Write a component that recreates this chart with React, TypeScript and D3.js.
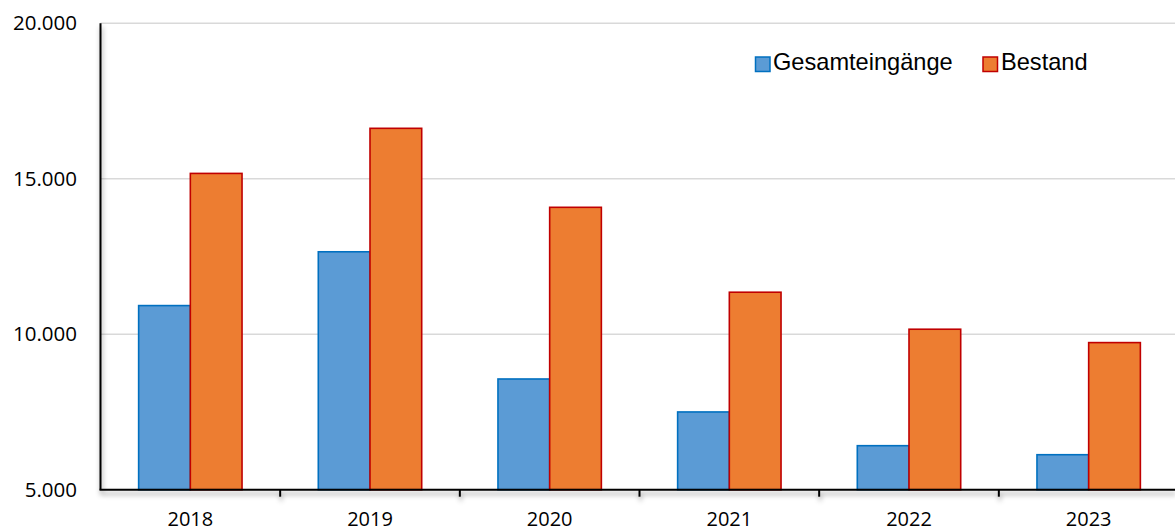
import React from "react";
import * as d3 from "d3";

const years = ["2018", "2019", "2020", "2021", "2022", "2023"];
const gesamteingaenge = [10920, 12650, 8560, 7500, 6415, 6125];
const bestand = [15170, 16620, 14080, 11350, 10160, 9730];
const yTicks = [5000, 10000, 15000, 20000];
const seriesNames = ["Gesamteingänge", "Bestand"];

const W = 1175;
const H = 531;
const left = 100.5;
const right = 1178.5;
const top = 23.2;
const bottom = 489.7;

const fmt = (v: number) => d3.format(",")(v).replace(/,/g, ".");

export default function App() {
  const x = d3.scaleBand<string>().domain(years).range([left, right]).paddingInner(0).paddingOuter(0);
  const y = d3.scaleLinear().domain([5000, 20000]).range([bottom, top]);
  const bw = x.bandwidth();
  const barW = 51.7;
  const series = [
    { name: seriesNames[0], values: gesamteingaenge, fill: "#5B9BD5", stroke: "#0070C0" },
    { name: seriesNames[1], values: bestand, fill: "#ED7D31", stroke: "#C00000" },
  ];
  const boundaries = years.slice(1).map((yr) => x(yr)!);

  return (
    <svg
      width={W}
      height={H}
      style={{ position: "absolute", left: 0, top: 0, background: "#fff" }}
    >
      <defs>
        <filter id="sh" x="-5%" y="-50%" width="110%" height="300%">
          <feDropShadow dx="1" dy="4" stdDeviation="2.5" floodColor="#000" floodOpacity="0.4" />
        </filter>
      </defs>
      <rect x={0} y={0} width={W} height={H} fill="#fff" />
      {yTicks.slice(1).map((t) => (
        <line key={t} x1={left} x2={W} y1={y(t)} y2={y(t)} stroke="#D9D9D9" strokeWidth={1.5} />
      ))}
      {series.map((s, si) =>
        s.values.map((v, i) => {
          const cx = x(years[i])! + bw / 2;
          const x0 = si === 0 ? cx - barW : cx;
          return (
            <rect
              key={s.name + i}
              x={x0}
              y={y(v)}
              width={barW}
              height={bottom - y(v)}
              fill={s.fill}
              stroke={s.stroke}
              strokeWidth={1.6}
            />
          );
        })
      )}
      <g filter="url(#sh)">
        <line x1={left} x2={left} y1={top} y2={bottom} stroke="#000" strokeWidth={2} />
        <line x1={left - 1} x2={W} y1={bottom} y2={bottom} stroke="#000" strokeWidth={2} />
        {boundaries.map((b, i) => (
          <line key={i} x1={b} x2={b} y1={bottom} y2={bottom + 7} stroke="#000" strokeWidth={2} />
        ))}
      </g>
      {yTicks.map((t) => (
        <text
          key={t}
          x={77}
          y={y(t) + 7}
          textAnchor="end"
          fontFamily="'Open Sans', sans-serif"
          fontSize={20.5}
          fill="#000"
        >
          {fmt(t)}
        </text>
      ))}
      {years.map((yr) => (
        <text
          key={yr}
          x={x(yr)! + bw / 2}
          y={526}
          textAnchor="middle"
          fontFamily="'Open Sans', sans-serif"
          fontSize={20}
          fill="#000"
        >
          {yr}
        </text>
      ))}
      <g fontFamily="'Liberation Sans', Arial, sans-serif" fontSize={23.6} fill="#000">
        <rect x={755.5} y={57} width={14.5} height={14.5} fill={series[0].fill} stroke={series[0].stroke} strokeWidth={1.5} />
        <text x={773} y={69.5}>{series[0].name}</text>
        <rect x={983} y={57} width={14.5} height={14.5} fill={series[1].fill} stroke={series[1].stroke} strokeWidth={1.5} />
        <text x={1001} y={69.5}>{series[1].name}</text>
      </g>
    </svg>
  );
}
